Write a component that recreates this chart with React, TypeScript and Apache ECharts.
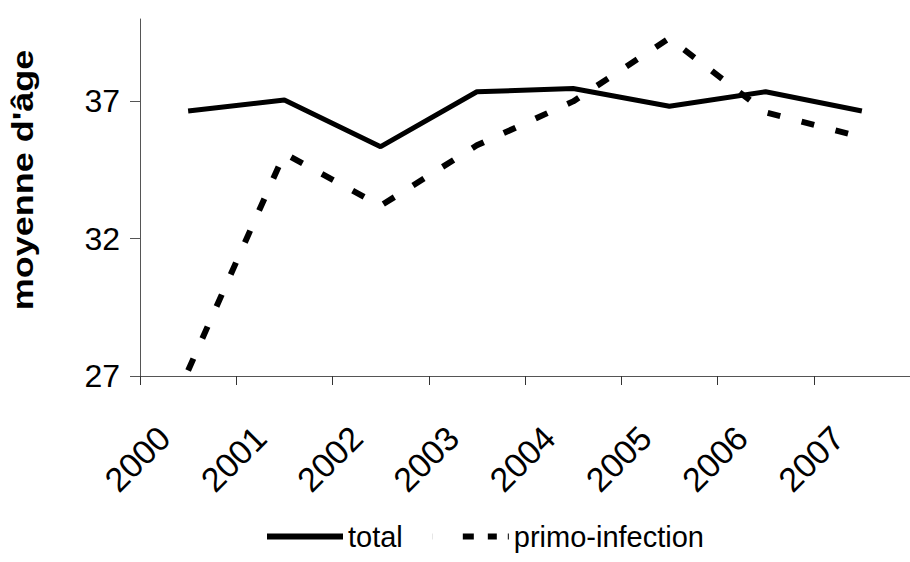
import React, { useEffect, useRef } from "react";
import * as echarts from "echarts";

const years = ["2000", "2001", "2002", "2003", "2004", "2005", "2006", "2007"];
const totalValues = [36.65, 37.05, 35.35, 37.35, 37.47, 36.82, 37.35, 36.65];
const primoValues = [27.2, 35.1, 33.2, 35.4, 37.0, 39.3, 36.6, 35.7];
const yTickValues = [27, 32, 37];
const seriesNames = ["total", "primo-infection"];
const yTitle = "moyenne d'âge";

const FONT = "'Liberation Sans', Arial, sans-serif";

const solidIcon = "path://M0,0h76v6h-76z";
const dashedIcon =
  "path://M0,0h0.1v6h-0.1z M30,0h11v6h-11z M55,0h9v6h-9z M75,0h1v6h-1z";

export default function App() {
  const ref = useRef<HTMLDivElement>(null);
  useEffect(() => {
    if (!ref.current) return;
    const chart = echarts.init(ref.current, undefined, { renderer: "svg" });
    chart.setOption({
      animation: false,
      backgroundColor: "#ffffff",
      textStyle: { fontFamily: FONT, color: "#000" },
      grid: { left: 140, top: 19, bottom: 186, width: 778 },
      legend: {
        left: 262,
        top: 517,
        itemWidth: 76,
        itemHeight: 6,
        itemGap: 30,
        textStyle: { fontSize: 29, color: "#000", fontFamily: FONT },
        data: [
          { name: seriesNames[0], icon: solidIcon, itemStyle: { color: "#000" } },
          { name: seriesNames[1], icon: dashedIcon, itemStyle: { color: "#000" } },
        ],
      },
      xAxis: {
        type: "category",
        data: years,
        boundaryGap: true,
        axisLine: { lineStyle: { color: "#555", width: 1 } },
        axisTick: { show: true, length: 9, lineStyle: { color: "#333" } },
        axisLabel: {
          rotate: 45,
          fontSize: 34,
          color: "#000",
          margin: 32,
          padding: [0, 34, 0, 0],
          fontFamily: FONT,
        },
        splitLine: { show: false },
      },
      yAxis: {
        type: "value",
        min: 27,
        max: 40,
        axisLine: { show: true, lineStyle: { color: "#555", width: 1 } },
        axisTick: {
          show: true,
          length: 10,
          customValues: yTickValues,
          lineStyle: { color: "#555" },
        },
        axisLabel: {
          customValues: yTickValues,
          fontSize: 32,
          color: "#000",
          margin: 20,
          fontFamily: FONT,
        },
        splitLine: { show: false },
      },
      graphic: [
        {
          type: "text",
          x: 23,
          y: 180,
          rotation: Math.PI / 2,
          scaleX: 1.2,
          style: {
            text: yTitle,
            fontSize: 30,
            fontWeight: "bold",
            fontFamily: FONT,
            fill: "#000",
            textAlign: "center",
            textVerticalAlign: "middle",
          },
        },
      ],
      series: [
        {
          name: seriesNames[0],
          type: "line",
          data: totalValues,
          symbol: "none",
          lineStyle: { color: "#000", width: 5, type: "solid" },
          itemStyle: { color: "#000" },
        },
        {
          name: seriesNames[1],
          type: "line",
          data: primoValues,
          symbol: "none",
          lineStyle: { color: "#000", width: 6, type: [13, 22] },
          itemStyle: { color: "#000" },
        },
      ],
    });
    return () => chart.dispose();
  }, []);
  return (
    <div
      ref={ref}
      style={{ position: "fixed", left: 0, top: 0, width: 910, height: 562 }}
    />
  );
}
